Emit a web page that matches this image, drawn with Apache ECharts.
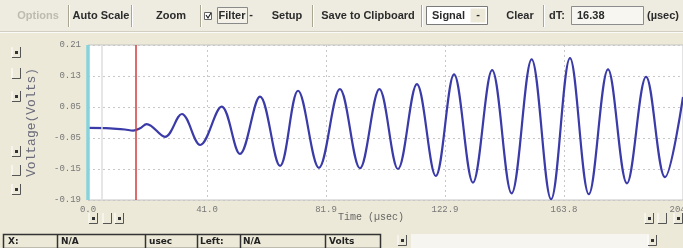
<!DOCTYPE html>
<html>
<head>
<meta charset="utf-8">
<script src="https://cdn.jsdelivr.net/npm/echarts@6/dist/echarts.min.js"></script>
<style>
html, body { margin: 0; padding: 0; background: #ece9d8; }
#scope { width: 683px; height: 248px; }
</style>
</head>
<body>
<div id="scope"></div>
<script>
// waveform turning points (time in usec, volts)
var timeUs = [0, 7.6, 12.7, 15.5, 17.9, 20.2, 26.5, 32.3, 38.6, 46.0, 52.3, 59.2, 66.1, 72.3, 79.5, 86.7,
  93.6, 100.3, 106.7, 113.2, 119.7, 126.0, 132.5, 139.1, 145.8, 152.7, 159.4, 165.9, 172.4, 179.0,
  185.5, 192.1, 198.6, 204.8];
var voltage = [-0.004, -0.005, -0.008, -0.011, -0.005, 0.006, -0.027, 0.032, -0.048, 0.051, -0.071, 0.077,
  -0.102, 0.092, -0.107, 0.096, -0.108, 0.096, -0.110, 0.109, -0.128, 0.134, -0.145, 0.145, -0.173, 0.173,
  -0.188, 0.176, -0.175, 0.147, -0.147, 0.128, -0.131, 0.076];

var cursorTimes = [0, 4.7, 16.38];
var yTickValues = [-0.19, -0.11, -0.03, 0.05, 0.13, 0.21];
var yTickLabels = ['-0.19', '-0.15', '-0.05', '0.05', '0.13', '0.21'];
var dTText = '16.38';

var myChart = echarts.init(document.getElementById('scope'));

var barFont = 'bold 11px "Liberation Sans"';
var g = [];
function txt(x, y, s, fill, font, align) {
  g.push({ type: 'text', x: x, y: y, z: 20, silent: true,
    style: { text: s, fill: fill || '#2b2b2b', font: font || barFont,
      align: align || 'center', verticalAlign: 'middle' } });
}
function box(x, y, w, h, fill, stroke, lw) {
  g.push({ type: 'rect', z: 18, silent: true, shape: { x: x, y: y, width: w, height: h },
    style: { fill: fill, stroke: stroke || null, lineWidth: lw || 1 } });
}
function ln(x1, y1, x2, y2, c, lw) {
  g.push({ type: 'line', z: 19, silent: true, shape: { x1: x1, y1: y1, x2: x2, y2: y2 },
    style: { stroke: c, lineWidth: lw || 1 } });
}
function knob(x, y, dot) {
  // little windows-style spin button
  ln(x + 8.5, y - 6, x + 8.5, y + 4.5, '#555');
  ln(x, y + 4.5, x + 8.5, y + 4.5, '#555');
  ln(x, y - 6, x, y + 4, '#fff');
  if (dot) box(x + 3, y - 2, 3, 3, '#333');
}

// toolbar
box(0, 0, 683, 31, '#eeebe0');
ln(0, 31.5, 683, 31.5, '#d3cfc0');
ln(0, 32.5, 683, 32.5, '#fafaf6');
[68, 131, 200, 312, 421, 543].forEach(function (x) {
  ln(x + 0.5, 5, x + 0.5, 27, '#aaa692');
  ln(x + 1.5, 5, x + 1.5, 27, '#ffffff');
});
txt(38, 16, 'Options', '#bdbab0');
txt(101, 16, 'Auto Scale');
txt(171, 16, 'Zoom');
box(204.5, 12.5, 7, 7, '#ffffff', '#666');
g.push({ type: 'polyline', z: 21, silent: true, shape: { points: [[206, 15], [208, 18], [211, 13]] },
  style: { stroke: '#222', lineWidth: 1.2, fill: null } });
box(217.5, 7.5, 30, 16, '#f3f1e8', '#8a8a8a');
txt(232, 16, 'Filter');
txt(251, 15, '-');
txt(287, 16, 'Setup');
txt(368, 16, 'Save to Clipboard');
box(426.5, 6.5, 61, 18, '#ffffff', '#7a7a7a');
txt(432, 16, 'Signal', '#2b2b2b', barFont, 'left');
box(470.5, 8.5, 15, 14, '#ece9d8');
txt(478, 15, '-');
txt(520, 16, 'Clear');
txt(549, 16, 'dT:', '#2b2b2b', barFont, 'left');
box(571.5, 6.5, 72, 18, '#f7f6f0', '#8c8c8c');
txt(577, 16, dTText, '#2b2b2b', barFont, 'left');
txt(647, 16, '(µsec)', '#2b2b2b', barFont, 'left');

// side spin buttons
[[12, 53, true], [12, 74, false], [12, 97, true], [12, 152, true], [12, 171, false], [12, 190, true]]
  .forEach(function (b) { knob(b[0], b[1], b[2]); });
[[89, 219, true], [103, 219, false], [115, 219, true], [645, 219, true], [658, 219, false], [674, 219, true]]
  .forEach(function (b) { knob(b[0], b[1], b[2]); });

txt(338, 217, 'Time (µsec)', '#666', '10px "Liberation Mono"', 'left');

// status strip
box(3.5, 234.5, 377, 14, '#ece9d8', '#333', 1.5);
[57, 145, 197, 240, 325].forEach(function (x) { ln(x + 0.5, 234, x + 0.5, 248, '#333', 1.5); });
var statusFont = 'bold 9px "DejaVu Sans"';
txt(8, 241.5, 'X:', '#222', statusFont, 'left');
txt(61, 241.5, 'N/A', '#222', statusFont, 'left');
txt(149, 241.5, 'usec', '#222', statusFont, 'left');
txt(200, 241.5, 'Left:', '#222', statusFont, 'left');
txt(243, 241.5, 'N/A', '#222', statusFont, 'left');
txt(329, 241.5, 'Volts', '#222', statusFont, 'left');
box(411, 234, 238, 14, '#f6f5f0');
knob(398, 241, true);
knob(648, 241, true);

var option = {
  animation: false,
  grid: { left: 88, top: 45, right: 0, bottom: 48, show: true, outerBoundsMode: 'none',
    containLabel: false,
    backgroundColor: '#ffffff', borderColor: '#c4c4c4', borderWidth: 1 },
  xAxis: {
    type: 'value', min: 0, max: 204.8, interval: 40.96,
    axisLine: { show: false }, axisTick: { show: false },
    splitLine: { show: true, lineStyle: { color: '#c8c8c8', type: [2, 3] } },
    axisLabel: { color: '#777', fontFamily: 'Liberation Mono', fontSize: 9, margin: 5,
      showMaxLabel: true, showMinLabel: true, hideOverlap: false,
      formatter: function (v) { return v.toFixed(1); } }
  },
  yAxis: {
    type: 'value', min: -0.19, max: 0.21, interval: 0.08,
    name: 'Voltage(Volts)', nameLocation: 'middle', nameRotate: 90, nameGap: 50,
    nameTextStyle: { color: '#6b6b7b', fontFamily: 'Liberation Mono', fontSize: 13 },
    axisLine: { show: false }, axisTick: { show: false },
    splitLine: { show: true, lineStyle: { color: '#c8c8c8', type: [2, 3] } },
    axisLabel: { color: '#777', fontFamily: 'Liberation Mono', fontSize: 9, margin: 7,
      formatter: function (v) {
        var best = 0;
        for (var i = 1; i < yTickValues.length; i++) {
          if (Math.abs(yTickValues[i] - v) < Math.abs(yTickValues[best] - v)) best = i;
        }
        return yTickLabels[best];
      } }
  },
  series: [{
    type: 'line',
    data: timeUs.map(function (t, i) { return [t, voltage[i]]; }),
    smooth: 0.36,
    showSymbol: false,
    lineStyle: { color: '#3a3aa8', width: 2.2 },
    markLine: {
      silent: true, symbol: 'none', label: { show: false },
      data: [
        { xAxis: cursorTimes[1], lineStyle: { color: '#dedede', width: 1.5, type: 'solid' } },
        { xAxis: cursorTimes[0], lineStyle: { color: '#86d3de', width: 3.5, type: 'solid' } },
        { xAxis: cursorTimes[2], lineStyle: { color: '#d23c3c', width: 1.5, type: 'solid' } }
      ]
    }
  }],
  graphic: g
};

myChart.setOption(option);
</script>
</body>
</html>
